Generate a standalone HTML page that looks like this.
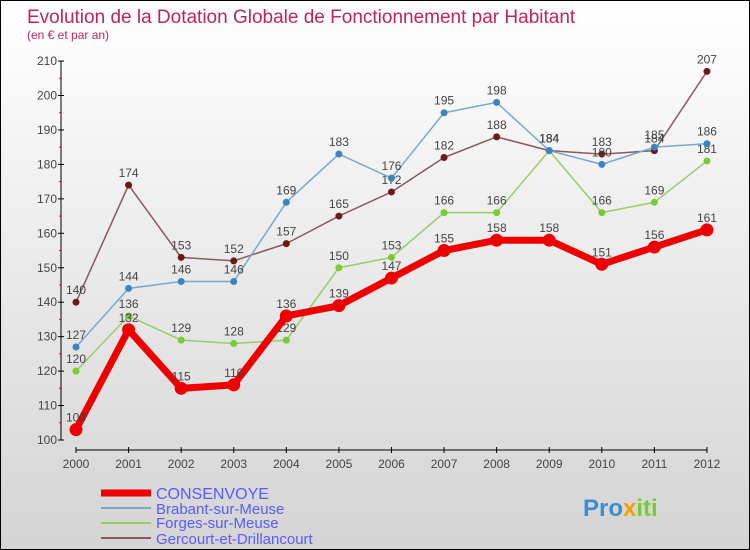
<!DOCTYPE html>
<html><head><meta charset="utf-8"><style>
body{margin:0}
#c{width:748px;height:548px;border:1px solid #000;background:linear-gradient(#fff,#d4d4d4);position:relative;overflow:hidden;font-family:"Liberation Sans",sans-serif}
</style></head><body>
<div id="c">
<svg id="s" width="748" height="548" style="position:absolute;left:0;top:0">
<text x="26" y="22" font-size="19" fill="#c0245c">Evolution de la Dotation Globale de Fonctionnement par Habitant</text>
<text x="26" y="38" font-size="12" fill="#c0245c">(en € et par an)</text>
<g id="axes"></g><g id="series"></g>
<g>
<line x1="100" y1="492" x2="150" y2="492" stroke="#e00" stroke-width="7"/>
<text x="155" y="498" font-size="16" fill="#5a5aff">CONSENVOYE</text>
<line x1="100" y1="507" x2="150" y2="507" stroke="#7aa8cc" stroke-width="2"/>
<text x="155" y="513" font-size="15" fill="#5a5aff">Brabant-sur-Meuse</text>
<line x1="100" y1="522" x2="150" y2="522" stroke="#9c6" stroke-width="2"/>
<text x="155" y="527" font-size="15" fill="#5a5aff">Forges-sur-Meuse</text>
<line x1="100" y1="537" x2="150" y2="537" stroke="#8a5a5a" stroke-width="2"/>
<text x="155" y="543" font-size="15" fill="#5a5aff">Gercourt-et-Drillancourt</text>
</g>
<text x="582" y="515" font-size="24" font-weight="bold" fill="#3a8fd0">Pro<tspan fill="#f5a000">x</tspan><tspan fill="#7c3">iti</tspan></text>
</svg>
</div>
<script>
const years=[2000,2001,2002,2003,2004,2005,2006,2007,2008,2009,2010,2011,2012];
const consenvoye=[103,132,115,116,136,139,147,155,158,158,151,156,161];
const brabant=[127,144,146,146,169,183,176,195,198,184,180,185,186];
const forges=[120,136,129,128,129,150,153,166,166,184,166,169,181];
const gercourt=[140,174,153,152,157,165,172,182,188,184,183,184,207];
const yTicks=[100,110,120,130,140,150,160,170,180,190,200,210];
const NS="http://www.w3.org/2000/svg";
const X=i=>75+i*52.58, Y=v=>439-(v-100)*3.445;
function mk(t,a,p){const e=document.createElementNS(NS,t);for(const k in a)e.setAttribute(k,a[k]);p.appendChild(e);return e;}
const ax=document.getElementById('axes');
let l=mk('line',{x1:60,y1:Y(210),x2:60,y2:Y(100),stroke:'#000'},ax);


l=mk('line',{x1:75,y1:449,x2:706,y2:449,stroke:'#000'},ax);


yTicks.forEach((v,i)=>{
 mk('line',{x1:57,y1:Y(v),x2:63,y2:Y(v),stroke:'#000'},ax);
 if(i<yTicks.length-1)mk('line',{x1:58,y1:Y(v+5),x2:60,y2:Y(v+5),stroke:'#e00'},ax);
 const t=mk('text',{x:56,y:Y(v)+4,'font-size':12,fill:'#444','text-anchor':'end'},ax);t.textContent=v;
 
 
});
years.forEach((y,i)=>{
 mk('line',{x1:X(i),y1:446,x2:X(i),y2:452,stroke:'#000'},ax);
 const t=mk('text',{x:X(i),y:467,'font-size':12,fill:'#444','text-anchor':'middle'},ax);t.textContent=y;
 
 
});
const sg=document.getElementById('series');
function draw(d,color,dot,w,r,name){
 const g=mk('g',{},sg);
 
 
 mk('polyline',{points:d.map((v,i)=>X(i)+','+Y(v)).join(' '),fill:'none',stroke:color,'stroke-width':w,'stroke-linejoin':'round'},g);
 d.forEach((v,i)=>{
  const c=mk('circle',{cx:X(i),cy:Y(v),r:r,fill:dot},g);
  
  
  const t=mk('text',{x:X(i),y:Y(v)-8,'font-size':12,fill:'#444','text-anchor':'middle'},g);t.textContent=v;
 });
}
draw(gercourt,'#8a5a5a','#6b1a1a',1.5,3.5,'series-gercourt');
draw(forges,'#9c6','#7c3',1.5,3.5,'series-forges');
draw(brabant,'#7aa8cc','#3a85c0',1.5,3.5,'series-brabant');
draw(consenvoye,'#e00','#e00',7,6.5,'series-consenvoye');
</script>
</body></html>
